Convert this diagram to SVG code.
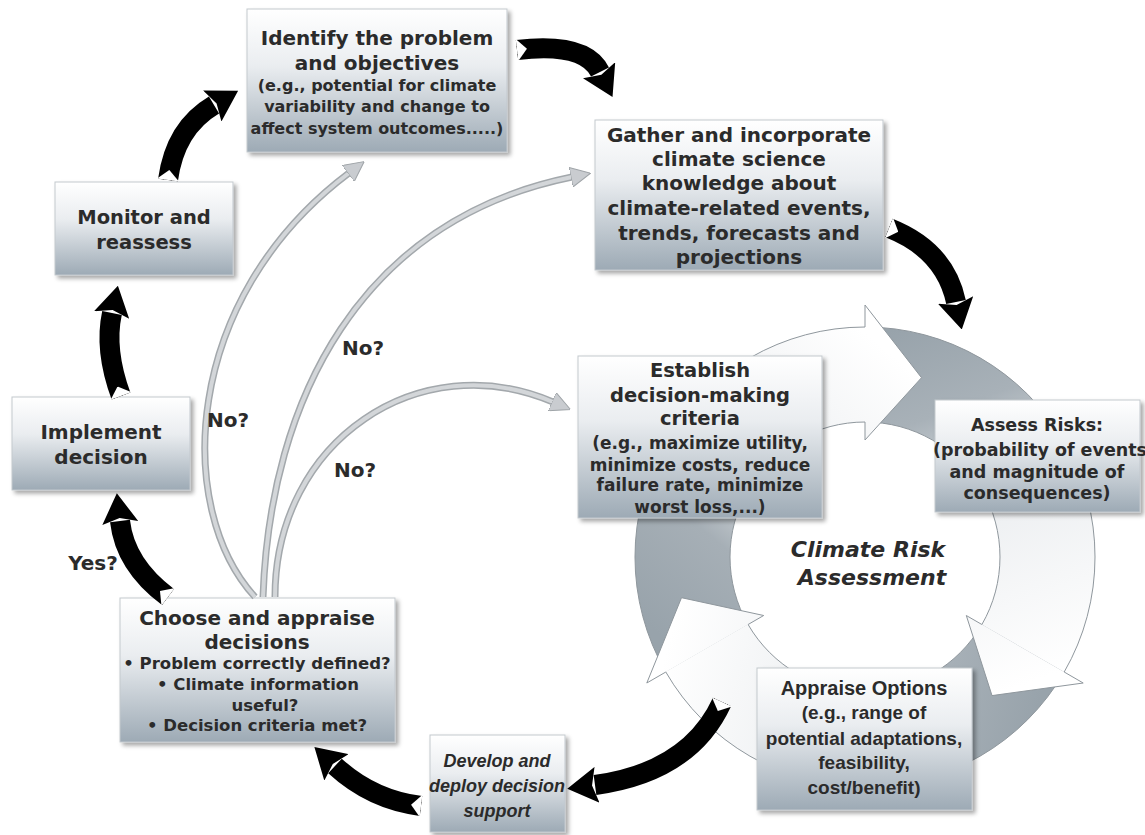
<svg xmlns="http://www.w3.org/2000/svg" width="1145" height="835" viewBox="0 0 1145 835">
<defs>
  <linearGradient id="boxg" x1="0" y1="0" x2="0" y2="1">
    <stop offset="0" stop-color="#ffffff"/>
    <stop offset="0.4" stop-color="#eaedf0"/>
    <stop offset="1" stop-color="#9daab5"/>
  </linearGradient>
  <filter id="sh" x="-10%" y="-10%" width="130%" height="130%">
    <feDropShadow dx="3" dy="3" stdDeviation="2" flood-color="#000" flood-opacity="0.35"/>
  </filter>
  <linearGradient id="rg1" gradientUnits="userSpaceOnUse" x1="690" y1="660" x2="920" y2="378">
    <stop offset="0" stop-color="#98a3ab"/>
    <stop offset="0.3" stop-color="#a6afb6"/>
    <stop offset="0.58" stop-color="#eef0f2"/>
    <stop offset="1" stop-color="#ffffff"/>
  </linearGradient>
  <linearGradient id="rg2" gradientUnits="userSpaceOnUse" x1="880" y1="335" x2="1010" y2="690">
    <stop offset="0" stop-color="#98a3ab"/>
    <stop offset="0.25" stop-color="#a8b1b8"/>
    <stop offset="0.55" stop-color="#eef0f2"/>
    <stop offset="1" stop-color="#ffffff"/>
  </linearGradient>
  <linearGradient id="rg3" gradientUnits="userSpaceOnUse" x1="1040" y1="700" x2="680" y2="600">
    <stop offset="0" stop-color="#98a3ab"/>
    <stop offset="0.28" stop-color="#a8b1b8"/>
    <stop offset="0.58" stop-color="#eef0f2"/>
    <stop offset="1" stop-color="#ffffff"/>
  </linearGradient>
  <marker id="bh" markerUnits="userSpaceOnUse" markerWidth="30" markerHeight="36" viewBox="0 0 30 36" refX="2" refY="18" orient="auto">
    <path d="M0,0 L30,18 L0,36 L5,18 Z" fill="#000"/>
  </marker>
  <marker id="bt" markerUnits="userSpaceOnUse" markerWidth="10" markerHeight="22" viewBox="0 0 10 22" refX="0" refY="11" orient="auto">
    <path d="M0,0 L10,11 L0,22 Z" fill="#fff"/>
  </marker>
  <marker id="gh" markerUnits="userSpaceOnUse" markerWidth="20" markerHeight="20" viewBox="0 0 20 20" refX="1" refY="10" orient="auto">
    <path d="M0,0 L20,10 L0,20 Z" fill="#c9ccd0" stroke="#9fa4a8" stroke-width="1"/>
  </marker>
</defs>
<style>
  .box{fill:url(#boxg);stroke:#c3c9ce;stroke-width:1;filter:url(#sh)}
  .t{font-family:"DejaVu Sans",Verdana,sans-serif;font-weight:bold;fill:#2b2b2b;text-anchor:middle}
  .n{font-family:"Liberation Sans",Arial,sans-serif;font-weight:bold;fill:#2b2b2b;text-anchor:middle}
  .ringline{fill:none;stroke:#8f979d;stroke-width:1}
  .blk{fill:none;stroke:#000;stroke-width:20;marker-end:url(#bh);marker-start:url(#bt)}
  .gbase{fill:none;stroke:#a3a8ac;stroke-width:7}
  .gtop{fill:none;stroke:#d3d6d9;stroke-width:4;marker-end:url(#gh)}
  .lbl{font-family:"DejaVu Sans",Verdana,sans-serif;font-weight:bold;font-size:20px;fill:#2b2b2b;text-anchor:middle}
</style>
<rect width="1145" height="835" fill="#ffffff"/>

<g id="cycle">
  <path d="M665.8,672 A230,230 0 0 1 865,327 L865,422 A135,135 0 0 0 748.1,624.5 Z" fill="url(#rg1)"/>
  <path d="M665.8,672 A230,230 0 0 1 865,327 M865,422 A135,135 0 0 0 748.1,624.5" class="ringline"/>
  <path d="M865,327 A230,230 0 0 1 1064.2,672 L981.9,624.5 A135,135 0 0 0 865,422 Z" fill="url(#rg2)"/>
  <path d="M865,327 A230,230 0 0 1 1064.2,672 M981.9,624.5 A135,135 0 0 0 865,422" class="ringline"/>
  <path d="M1064.2,672 A230,230 0 0 1 665.8,672 L748.1,624.5 A135,135 0 0 0 981.9,624.5 Z" fill="url(#rg3)"/>
  <path d="M1064.2,672 A230,230 0 0 1 665.8,672 M748.1,624.5 A135,135 0 0 0 981.9,624.5" class="ringline"/>
  <path d="M865,327 L865,305 L921.5,377.7 L865,440 L865,422 Z" fill="url(#rg1)"/>
  <path d="M865,327 L865,305 L921.5,377.7 L865,440 L865,422" class="ringline"/>
  <path d="M1064.2,672 L1083.2,683 L992,695.6 L966.3,615.5 L981.9,624.5 Z" fill="url(#rg2)"/>
  <path d="M1064.2,672 L1083.2,683 L992,695.6 L966.3,615.5 L981.9,624.5" class="ringline"/>
  <path d="M665.8,672 L646.8,683 L681.5,597.7 L763.7,615.5 L748.1,624.5 Z" fill="url(#rg3)"/>
  <path d="M665.8,672 L646.8,683 L681.5,597.7 L763.7,615.5 L748.1,624.5" class="ringline"/>
  <text class="t" font-style="italic" font-size="22" x="868" y="557">Climate Risk</text>
  <text class="t" font-style="italic" font-size="22" x="872" y="585">Assessment</text>
</g>

<g id="identify">
  <rect class="box" x="247" y="9" width="260" height="143"/>
  <text class="t" font-size="20" x="377" y="45">Identify the problem</text>
  <text class="t" font-size="20" x="377" y="70">and objectives</text>
  <text class="t" font-size="16" x="377" y="91">(e.g., potential for climate</text>
  <text class="t" font-size="16" x="377" y="112">variability and change to</text>
  <text class="t" font-size="16" x="377" y="134">affect system outcomes.....)</text>
</g>

<g id="gather">
  <rect class="box" x="595" y="120" width="288" height="150"/>
  <text class="t" font-size="20" x="739" y="142">Gather and incorporate</text>
  <text class="t" font-size="20" x="739" y="166">climate science</text>
  <text class="t" font-size="20" x="739" y="190">knowledge about</text>
  <text class="t" font-size="20" x="739" y="215">climate-related events,</text>
  <text class="t" font-size="20" x="739" y="240">trends, forecasts and</text>
  <text class="t" font-size="20" x="739" y="264">projections</text>
</g>

<g id="monitor">
  <rect class="box" x="55" y="182" width="178" height="93"/>
  <text class="t" font-size="19.5" x="144" y="224">Monitor and</text>
  <text class="t" font-size="19.5" x="144" y="249">reassess</text>
</g>

<g id="implement">
  <rect class="box" x="12" y="397" width="178" height="93"/>
  <text class="t" font-size="20" x="101" y="439">Implement</text>
  <text class="t" font-size="20" x="101" y="464">decision</text>
</g>

<g id="establish">
  <rect class="box" x="578" y="356" width="244" height="162"/>
  <text class="t" font-size="19.5" x="700" y="377">Establish</text>
  <text class="t" font-size="19.5" x="700" y="402">decision-making</text>
  <text class="t" font-size="19.5" x="700" y="425">criteria</text>
  <text class="t" font-size="17" x="700" y="449">(e.g., maximize utility,</text>
  <text class="t" font-size="17" x="700" y="471">minimize costs, reduce</text>
  <text class="t" font-size="17" x="700" y="491">failure rate, minimize</text>
  <text class="t" font-size="17" x="700" y="513">worst loss,...)</text>
</g>

<g id="assess">
  <rect class="box" x="935" y="400" width="205" height="112"/>
  <text class="t" font-size="17.5" x="1037" y="431">Assess Risks:</text>
  <text class="t" font-size="17.5" x="1040" y="456">(probability of events</text>
  <text class="t" font-size="17.5" x="1037" y="478">and magnitude of</text>
  <text class="t" font-size="17.5" x="1037" y="499">consequences)</text>
</g>

<g id="appraise">
  <rect class="box" x="757" y="668" width="215" height="142"/>
  <text class="n" font-size="20" x="864" y="695">Appraise Options</text>
  <text class="n" font-size="19" x="864" y="719">(e.g., range of</text>
  <text class="n" font-size="19" x="864" y="745">potential adaptations,</text>
  <text class="n" font-size="19" x="864" y="769">feasibility,</text>
  <text class="n" font-size="19" x="864" y="794">cost/benefit)</text>
</g>

<g id="develop">
  <rect class="box" x="430" y="735" width="135" height="97"/>
  <text class="n" font-style="italic" font-size="18" x="497" y="767">Develop and</text>
  <text class="n" font-style="italic" font-size="18" x="497" y="792">deploy decision</text>
  <text class="n" font-style="italic" font-size="18" x="497" y="817">support</text>
</g>

<g id="choose">
  <rect class="box" x="120" y="598" width="275" height="144"/>
  <text class="t" font-size="20" x="257" y="625">Choose and appraise</text>
  <text class="t" font-size="20" x="257" y="649">decisions</text>
  <text class="t" font-size="16.5" x="257" y="669">• Problem correctly defined?</text>
  <text class="t" font-size="16.5" x="258" y="690">• Climate information</text>
  <text class="t" font-size="16.5" x="265" y="711">useful?</text>
  <text class="t" font-size="16.5" x="257" y="731">• Decision criteria met?</text>
</g>

<g id="connectors">
  <path class="gbase" d="M255,597 C175,510 180,300 349,173"/>
  <path class="gtop" d="M255,597 C175,510 180,300 349,173"/>
  <path class="gbase" d="M263,597 C270,400 360,220 572,177"/>
  <path class="gtop" d="M263,597 C270,400 360,220 572,177"/>
  <path class="gbase" d="M275,597 C275,440 420,345 553,402"/>
  <path class="gtop" d="M275,597 C275,440 420,345 553,402"/>
  <path class="blk" d="M168,180 Q175,128 214,105"/>
  <path class="blk" d="M517,50 Q585,42 600,72"/>
  <path class="blk" d="M889,228 Q945,250 956,302"/>
  <path class="blk" d="M121,396 Q104,350 112,313"/>
  <path class="blk" d="M168,597 Q125,565 120,521"/>
  <path class="blk" d="M421,806 Q372,800 335,766"/>
  <path class="blk" d="M722,702 Q690,772 595,785"/>
  <text class="lbl" x="228" y="427">No?</text>
  <text class="lbl" x="363" y="355">No?</text>
  <text class="lbl" x="355" y="477">No?</text>
  <text class="lbl" x="93" y="570">Yes?</text>
</g>
</svg>
